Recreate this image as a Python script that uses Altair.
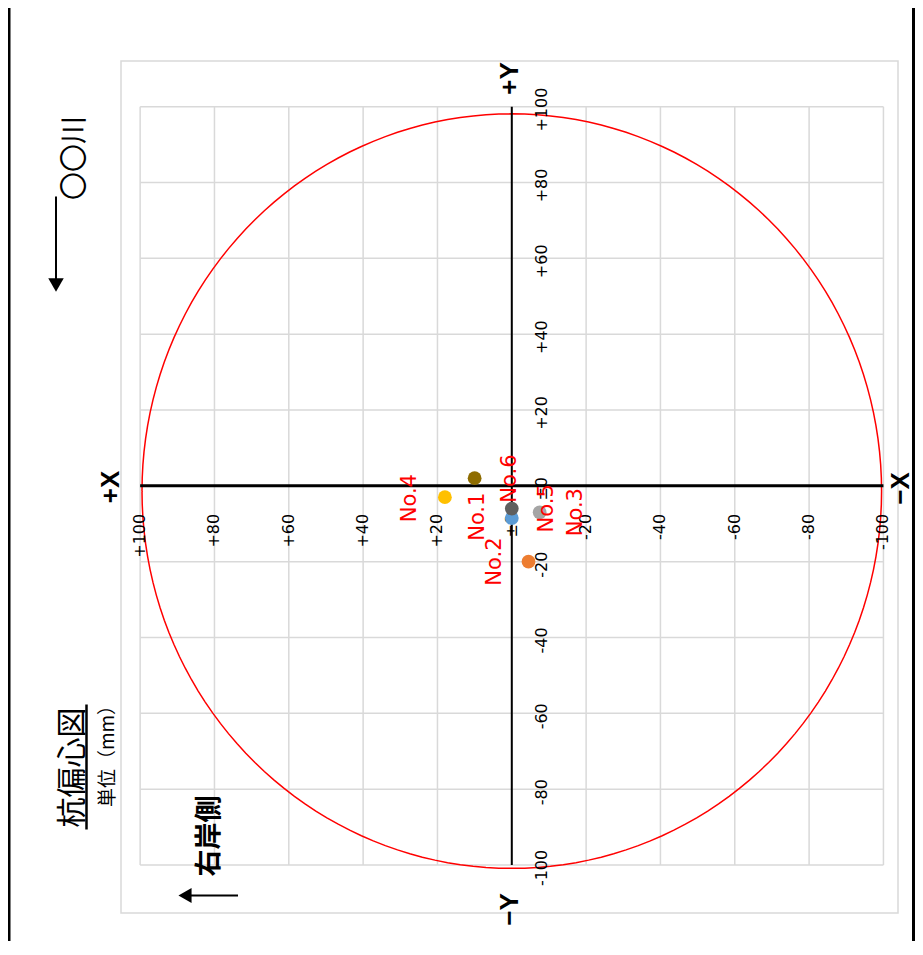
import altair as alt
import pandas as pd
import numpy as np

# ---------------- data ----------------
X_TICKS = [100, 80, 60, 40, 20, 0, -20, -40, -60, -80, -100]
X_LABELS = ["+100", "+80", "+60", "+40", "+20", "±0", "-20", "-40", "-60", "-80", "-100"]
Y_TICKS = [100, 80, 60, 40, 20, 0, -20, -40, -60, -80, -100]
Y_LABELS = ["+100", "+80", "+60", "+40", "+20", "±0", "-20", "-40", "-60", "-80", "-100"]

PILE_NAMES = ["No.2", "No.6", "No.1", "No.4", "No.5", "No.3"]
PILE_X = [0, 0, 10, 18, -7.5, -4.5]
PILE_Y = [-8.5, -6, 2, -3, -7, -20]
PILE_COLORS = ["#5B9BD5", "#5F5F5F", "#8E6C00", "#FFC000", "#A5A5A5", "#ED7D31"]

# tolerance circle (radius in mm)
TOL_RADIUS = 99.5
TOL_CENTER_X = 0.0
TOL_CENTER_Y = -1.4

# label shifts on screen (px right, px down)
LABEL_SHIFT_X = [-16.5, -2, 3.5, -34.5, 7.5, 47]
LABEL_SHIFT_Y = [43.5, -30, 38.5, 1, -4, -49.5]

# ---------------- scales ----------------
XS = alt.Scale(domain=[-103.92, 105.15], reverse=True, nice=False, zero=False)
YS = alt.Scale(domain=[-112.67, 112.04], nice=False, zero=False)

ONE = pd.DataFrame({"k": [0]})
TICK_FONT = "DejaVu Sans"
CJK = "Noto Sans CJK JP"
GRID = "#d9d9d9"

lo, hi = min(X_TICKS), max(X_TICKS)
ylo, yhi = min(Y_TICKS), max(Y_TICKS)

layers = []

# grid
gv = pd.DataFrame({"v": X_TICKS, "lo": ylo, "hi": yhi})
layers.append(alt.Chart(gv).mark_rule(color=GRID, strokeWidth=1.5).encode(
    x=alt.X("v:Q", scale=XS, axis=None),
    y=alt.Y("lo:Q", scale=YS, axis=None), y2="hi:Q"))
gh = pd.DataFrame({"v": Y_TICKS, "lo": lo, "hi": hi})
layers.append(alt.Chart(gh).mark_rule(color=GRID, strokeWidth=1.5).encode(
    y=alt.Y("v:Q", scale=YS, axis=None),
    x=alt.X("lo:Q", scale=XS, axis=None), x2="hi:Q"))

# circle
ang = np.deg2rad(np.arange(0, 361, 2))
circ = pd.DataFrame({"i": np.arange(len(ang)),
                     "cx": TOL_CENTER_X + TOL_RADIUS * np.cos(ang),
                     "cy": TOL_CENTER_Y + TOL_RADIUS * np.sin(ang)})
layers.append(alt.Chart(circ).mark_line(color="#FF0000", strokeWidth=1.5).encode(
    x=alt.X("cx:Q", scale=XS, axis=None), y=alt.Y("cy:Q", scale=YS, axis=None),
    order="i:Q"))

# axis lines
ah = pd.DataFrame({"a": [hi], "b": [lo], "y": [0]})
layers.append(alt.Chart(ah).mark_rule(color="black", strokeWidth=3).encode(
    x=alt.X("a:Q", scale=XS, axis=None), x2="b:Q", y=alt.Y("y:Q", scale=YS, axis=None)))
av = pd.DataFrame({"a": [yhi], "b": [ylo], "x": [0]})
layers.append(alt.Chart(av).mark_rule(color="black", strokeWidth=2).encode(
    y=alt.Y("a:Q", scale=YS, axis=None), y2="b:Q", x=alt.X("x:Q", scale=XS, axis=None)))

# tick labels
xl = pd.DataFrame({"v": X_TICKS, "t": X_LABELS, "z": 0})
layers.append(alt.Chart(xl).mark_text(angle=270, align="right", baseline="middle",
                                      dx=-28, dy=0, fontSize=16, font=TICK_FONT, color="black").encode(
    x=alt.X("v:Q", scale=XS, axis=None), y=alt.Y("z:Q", scale=YS, axis=None), text="t:N"))
yl = pd.DataFrame({"v": Y_TICKS, "t": Y_LABELS, "z": 0})
layers.append(alt.Chart(yl).mark_text(angle=270, align="center", baseline="middle",
                                      dx=-3, dy=30.5, fontSize=16, font=TICK_FONT, color="black").encode(
    y=alt.Y("v:Q", scale=YS, axis=None), x=alt.X("z:Q", scale=XS, axis=None), text="t:N"))

# points
pts = pd.DataFrame({"name": PILE_NAMES, "x": PILE_X, "y": PILE_Y, "i": range(len(PILE_NAMES))})
layers.append(alt.Chart(pts).mark_circle(size=190, opacity=1).encode(
    x=alt.X("x:Q", scale=XS, axis=None), y=alt.Y("y:Q", scale=YS, axis=None),
    color=alt.Color("name:N", scale=alt.Scale(domain=PILE_NAMES, range=PILE_COLORS), legend=None),
    order="i:Q"))

# data labels (text rotated 270: dx = -screen_down, dy = screen_right)
for n, sx, sy in zip(PILE_NAMES, LABEL_SHIFT_X, LABEL_SHIFT_Y):
    layers.append(alt.Chart(pts).transform_filter(alt.datum.name == n).mark_text(
        angle=270, align="center", baseline="middle", dx=-sy, dy=sx,
        fontSize=21, font=TICK_FONT, color="#FF0000").encode(
        x=alt.X("x:Q", scale=XS, axis=None), y=alt.Y("y:Q", scale=YS, axis=None), text="name:N"))


def ptext(txt, px, py, size, weight="normal", font="Liberation Sans"):
    return alt.Chart(ONE).mark_text(text=txt, angle=270, align="center", baseline="middle",
                                    fontSize=size, fontWeight=weight, font=font, color="black").encode(
        x=alt.value(px), y=alt.value(py))


def prule(x1, y1, x2, y2, w):
    return alt.Chart(ONE).mark_rule(color="black", strokeWidth=w).encode(
        x=alt.value(x1), y=alt.value(y1), x2=alt.value(x2), y2=alt.value(y2))


def phead(shape, px, py, size):
    return alt.Chart(ONE).mark_point(shape=shape, filled=True, size=size, color="black", opacity=1).encode(
        x=alt.value(px), y=alt.value(py))


# axis end names
layers.append(ptext("+X", -10, 426, 26, "bold"))
layers.append(ptext("−X", 779.5, 427.5, 26, "bold"))
layers.append(ptext("+Y", 389, 17.5, 26, "bold"))
layers.append(ptext("−Y", 389, 848.5, 26, "bold"))

# titles
layers.append(ptext("杭偏心図", -48, 706.5, 30, "normal", CJK))
layers.append(prule(-34.5, 643.5, -34.5, 768.5, 2.5))
layers.append(ptext("単位（mm）", -13, 690.5, 19, "normal", CJK))
layers.append(ptext("右岸側", 88.5, 775, 27, "bold", CJK))
layers.append(prule(68, 834.5, 117, 834.5, 2))
layers.append(phead("triangle-left", 64, 834.5, 230))
layers.append(ptext("〇〇川", -45, 97, 28, "normal", CJK))
layers.append(prule(-65, 135.5, -65, 220, 2))
layers.append(phead("triangle-down", -65, 224, 240))

# outer black frame
layers.append(prule(-112, -53, -112, 880, 3))
layers.append(prule(793, -53, 793, 880, 4))

chart = alt.layer(*layers).properties(
    width=777, height=852,
    padding={"left": 113, "top": 53, "right": 17, "bottom": 28},
    autosize=alt.AutoSizeParams(type="none"),
    background="white",
).configure_view(stroke=GRID, strokeWidth=1.5)

chart.save("out.html", embed_options={"renderer": "svg", "actions": False})
